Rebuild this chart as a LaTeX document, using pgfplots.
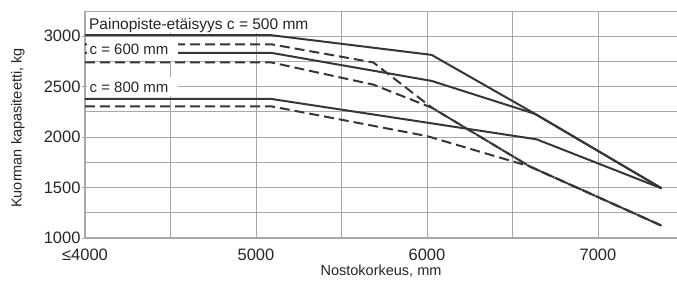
\documentclass[border=0pt]{standalone}
\usepackage{fontspec}
\setmainfont{Liberation Sans}
\usepackage{pgfplots}
\pgfplotsset{compat=1.18}
\definecolor{lin}{HTML}{363636}
\definecolor{grd}{HTML}{A8A8A8}
\definecolor{txt}{HTML}{262626}
\begin{document}
\begin{tikzpicture}
\begin{axis}[
  scale only axis, width=592pt, height=227pt,
  xmin=4000, xmax=7462, ymin=1000, ymax=3250,
  axis lines*=left,
  axis line style={grd, line width=1pt},
  xtick={4000,5000,6000,7000}, xticklabels={≤4000,5000,6000,7000},
  minor xtick={4500,5500,6500},
  ytick={1000,1500,2000,2500,3000},
  minor ytick={1250,1750,2250,2750,3250},
  grid=both,
  major grid style={grd, line width=0.9pt},
  minor grid style={grd, line width=0.9pt},
  tick align=outside, major tick length=3pt, minor tick length=0pt,
  xtick style={draw=none}, ytick style={grd, line width=0.9pt},
  tick label style={font=\fontsize{16.5}{18}\selectfont, text=txt},
  xticklabel style={yshift=-4pt},
  yticklabel style={xshift=2pt},
  /pgf/number format/assume math mode=true,
  /pgf/number format/1000 sep={},
  xlabel={Nostokorkeus, mm}, ylabel={Kuorman kapasiteetti, kg},
  label style={font=\fontsize{14.5}{16}\selectfont, text=txt},
  xlabel style={at={(axis description cs:0.5,-0.116)}, anchor=north, inner sep=0pt},
  ylabel style={at={(axis description cs:-0.1132,0.4846)}, anchor=center, inner sep=0pt},
  ser/.style={draw=lin, line width=2pt, mark=none},
  dsh/.style={ser, dash pattern=on 10pt off 5pt},
]
\fill[white] (axis cs:4009,3032) rectangle (axis cs:5240,3243);
\node[anchor=base west, inner sep=0pt, font=\fontsize{15.5}{17}\selectfont, text=txt] at (axis cs:4023,3065) {Painopiste-etäisyys c = 500 mm};

% c = 500 mm
\addplot[ser] coordinates {(4000,3010) (5090,3010) (6027,2815) (6632,2230) (7372,1492)};
\addplot[dsh] coordinates {(4000,2920) (5090,2920) (5686,2740) (6030,2290) (6600,1710) (7372,1122)};
% c = 600 mm
\addplot[ser] coordinates {(4000,2835) (5090,2835) (6027,2557) (6632,2230) (7372,1492)};
\addplot[dsh] coordinates {(4000,2740) (5090,2740) (5686,2520) (6030,2290) (6600,1710) (7372,1122)};
% c = 800 mm
\addplot[ser] coordinates {(4000,2378) (5090,2378) (6641,1978) (7372,1492)};
\addplot[dsh] coordinates {(4000,2305) (5090,2305) (6000,2010) (6600,1710) (7372,1122)};

\fill[white] (axis cs:4009,2759) rectangle (axis cs:4544,2992);
\node[anchor=base west, inner sep=0pt, font=\fontsize{15}{17}\selectfont, text=txt] at (axis cs:4026,2814) {c = 600 mm};
\fill[white] (axis cs:4009,2407) rectangle (axis cs:4544,2596);
\node[anchor=base west, inner sep=0pt, font=\fontsize{15}{17}\selectfont, text=txt] at (axis cs:4026,2443) {c = 800 mm};
\end{axis}
\pgfresetboundingbox
\path ([shift={(-85pt,-47pt)}]current axis.south west) rectangle ([shift={(0pt,11pt)}]current axis.north east);
\end{tikzpicture}
\end{document}
